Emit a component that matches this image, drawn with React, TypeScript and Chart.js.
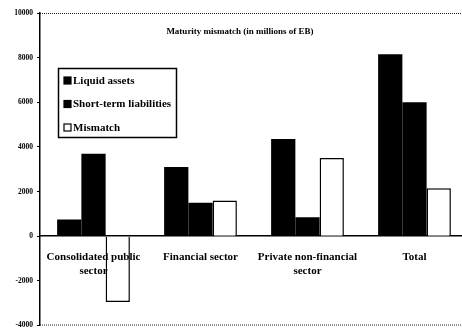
import React, { useEffect, useRef } from "react";
import { Chart, registerables } from "chart.js";

Chart.register(...registerables);

// Sectors along the x axis (multi-line labels as arrays)
const categories: (string | string[])[] = [
  ["Consolidated public", "sector"],
  "Financial sector",
  ["Private non-financial", "sector"],
  "Total",
];

// Values in millions
const liquidAssets = [750, 3100, 4350, 8150];
const shortTermLiabilities = [3700, 1500, 850, 6000];
const mismatch = [-2950, 1600, 3500, 2150];

const seriesNames = ["Liquid assets", "Short-term liabilities", "Mismatch"];
const titleText = "Maturity mismatch (in millions of EB)";

const yMin = -4000;
const yMax = 10000;
const yStep = 2000;

const SERIF = "'Liberation Serif', 'Times New Roman', serif";

// Title, in-plot legend box and dotted frame lines
const decorPlugin = {
  id: "decor",
  afterDraw(chart: any) {
    const { ctx, chartArea } = chart;
    ctx.save();

    // dotted top and bottom frame
    ctx.strokeStyle = "#222";
    ctx.lineWidth = 1;
    ctx.setLineDash([1, 1]);
    ctx.beginPath();
    ctx.moveTo(chartArea.left, chartArea.top + 0.5);
    ctx.lineTo(chartArea.right, chartArea.top + 0.5);
    ctx.moveTo(chartArea.left, chartArea.bottom - 0.5);
    ctx.lineTo(chartArea.right, chartArea.bottom - 0.5);
    ctx.stroke();
    ctx.setLineDash([]);

    // title
    ctx.fillStyle = "#000";
    ctx.font = `bold 9px ${SERIF}`;
    ctx.textAlign = "center";
    ctx.textBaseline = "middle";
    ctx.fillText(titleText, 240, 32);

    // legend box
    const bx = 58, by = 68, bw = 118, bh = 69;
    ctx.lineWidth = 1.5;
    ctx.strokeStyle = "#000";
    ctx.strokeRect(bx + 0.5, by + 0.5, bw, bh);
    ctx.font = `bold 11px ${SERIF}`;
    ctx.textAlign = "left";
    const rows = [80.5, 104, 127.5];
    chart.data.datasets.forEach((ds: any, i: number) => {
      const cy = rows[i];
      ctx.fillStyle = ds.backgroundColor;
      ctx.fillRect(64, cy - 3.5, 7, 7);
      ctx.lineWidth = 1.2;
      ctx.strokeStyle = "#000";
      ctx.strokeRect(64, cy - 3.5, 7, 7);
      ctx.fillStyle = "#000";
      ctx.fillText(ds.label, 73, cy + 0.5);
    });

    ctx.restore();
  },
};

export default function App() {
  const canvasRef = useRef<HTMLCanvasElement | null>(null);

  useEffect(() => {
    if (!canvasRef.current) return;
    const chart = new Chart(canvasRef.current, {
      type: "bar",
      data: {
        labels: categories,
        datasets: [
          {
            label: seriesNames[0],
            data: liquidAssets,
            backgroundColor: "#000",
            borderWidth: 0,
          },
          {
            label: seriesNames[1],
            data: shortTermLiabilities,
            backgroundColor: "#000",
            borderWidth: 0,
          },
          {
            label: seriesNames[2],
            data: mismatch,
            backgroundColor: "#fff",
            borderColor: "#000",
            borderWidth: 1.5,
          },
        ],
      },
      options: {
        responsive: false,
        animation: false,
        devicePixelRatio: 1,
        layout: { padding: { top: 13, bottom: 5, right: 2, left: 0 } },
        datasets: {
          bar: { barPercentage: 1, categoryPercentage: 0.68 },
        },
        plugins: {
          legend: { display: false },
          tooltip: { enabled: false },
          title: { display: false },
        },
        scales: {
          x: {
            position: { y: 0 } as any,
            grid: { display: false, tickLength: 0 },
            border: { display: true, color: "#000", width: 1.5 },
            ticks: {
              z: 1,
              color: "#000",
              font: { family: SERIF, size: 11, weight: "bold", lineHeight: 1.36 },
              padding: 13,
              maxRotation: 0,
              autoSkip: false,
            },
          },
          y: {
            min: yMin,
            max: yMax,
            afterFit(scale: any) {
              scale.width = 40;
            },
            grid: {
              display: true,
              drawOnChartArea: false,
              tickLength: 3,
              color: "#000",
            },
            border: { display: true, color: "#000", width: 1.5 },
            ticks: {
              stepSize: yStep,
              color: "#000",
              padding: 4,
              font: { family: SERIF, size: 7.5, weight: "bold" },
              callback: (v: any) => String(v),
            },
          },
        },
      },
      plugins: [decorPlugin],
    });
    return () => chart.destroy();
  }, []);

  return (
    <div
      style={{
        position: "fixed",
        left: 0,
        top: 0,
        width: 462,
        height: 334,
        overflow: "hidden",
        background: "#fff",
      }}
    >
      <canvas ref={canvasRef} width={470} height={334} style={{ display: "block" }} />
    </div>
  );
}
